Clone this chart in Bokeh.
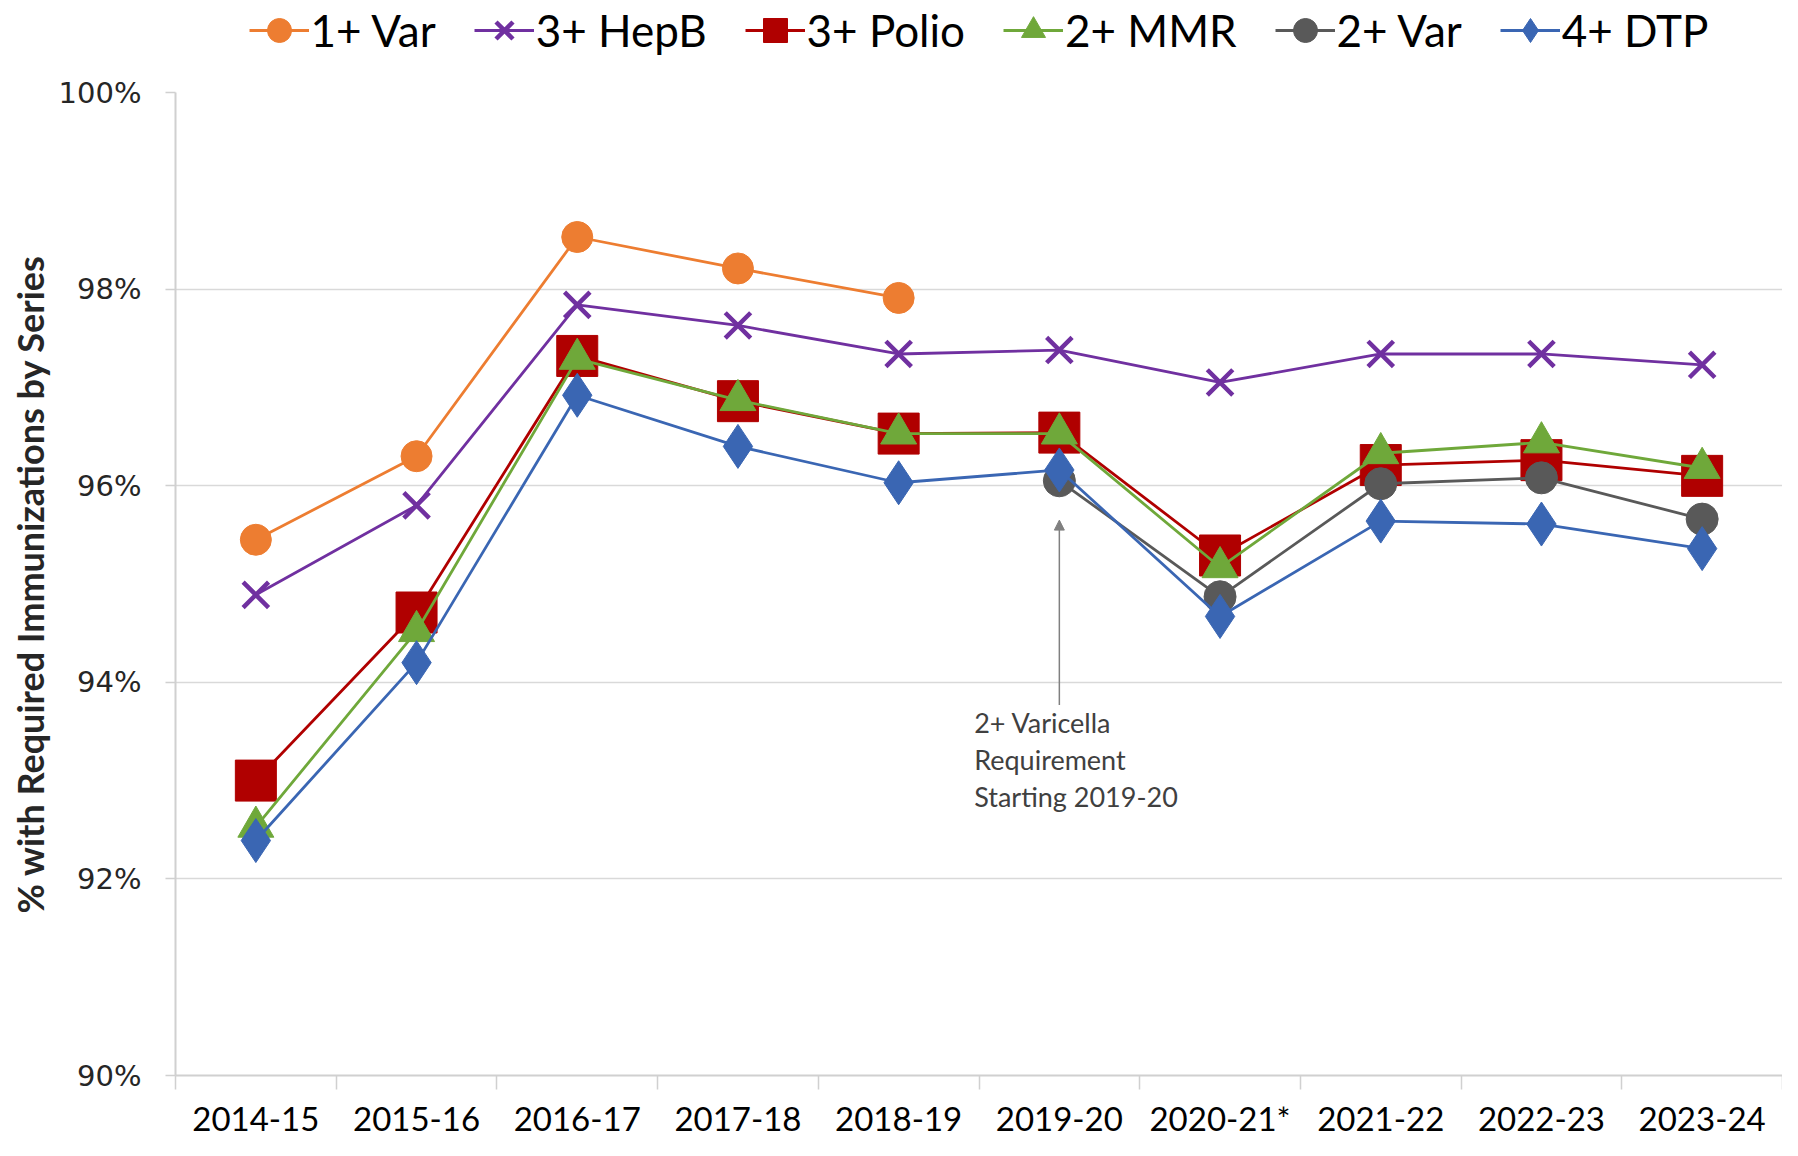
from bokeh.plotting import figure
from bokeh.layouts import column
from bokeh.models import (Legend, LegendItem, FixedTicker, Arrow, NormalHead, ColumnDataSource)
from bokeh.core.properties import value
from bokeh.embed import file_html
from bokeh.resources import INLINE

years = ["2014-15", "2015-16", "2016-17", "2017-18", "2018-19",
         "2019-20", "2020-21*", "2021-22", "2022-23", "2023-24"]
var1 = [95.45, 96.30, 98.53, 98.21, 97.91, None, None, None, None, None]
hepb3 = [94.89, 95.80, 97.84, 97.63, 97.34, 97.38, 97.05, 97.34, 97.34, 97.23]
polio3 = [93.00, 94.71, 97.32, 96.86, 96.53, 96.54, 95.29, 96.21, 96.26, 96.10]
mmr2 = [92.53, 94.52, 97.29, 96.87, 96.53, 96.53, 95.17, 96.33, 96.44, 96.18]
var2 = [None, None, None, None, None, 96.05, 94.87, 96.02, 96.08, 95.66]
dtp4 = [92.39, 94.20, 96.92, 96.40, 96.03, 96.16, 94.67, 95.64, 95.61, 95.36]
y_ticks = [90, 92, 94, 96, 98, 100]

series_names = ["1+ Var", "3+ HepB", "3+ Polio", "2+ MMR", "2+ Var", "4+ DTP"]
series_vals = [var1, hepb3, polio3, mmr2, var2, dtp4]
colors = ["#ED7D31", "#7030A0", "#B00000", "#6FA83A", "#595959", "#3A66B3"]
markers = ["circle", "x", "square", "triangle", "circle", "diamond"]
sizes = [31, 36, 41, 36, 32, 44]

annot_text = "2+ Varicella\nRequirement\nStarting 2019-20"

CAL = "Lato"
W = 1782
TOP_H = 72
H = 1140

# ---- legend strip (its renderers reuse the series data, which lies outside its ranges) ----
top = figure(width=W, height=TOP_H, output_backend="svg", toolbar_location=None,
             x_range=(0, 1), y_range=(0, 1), min_border_left=128, min_border_right=0,
             min_border_top=0, min_border_bottom=12)
top.axis.visible = False
top.grid.visible = False
top.outline_line_color = None

# ---- main chart ----
p = figure(width=W, height=H - TOP_H, output_backend="svg", toolbar_location=None,
           x_range=(-0.5, 9.5), y_range=(90, 100),
           min_border_left=175, min_border_right=0, min_border_top=20,
           min_border_bottom=0)
p.outline_line_color = None
p.xgrid.grid_line_color = None
p.ygrid.grid_line_color = "#d9d9d9"
p.ygrid.grid_line_width = 1.5
p.ygrid.ticker = FixedTicker(ticks=y_ticks)

xa = p.xaxis[0]
xa.ticker = FixedTicker(ticks=list(range(len(years))),
                        minor_ticks=[i - 0.5 for i in range(len(years) + 1)])
xa.major_label_overrides = {i: y for i, y in enumerate(years)}
xa.major_tick_line_color = None
xa.major_tick_out = 14
xa.major_tick_in = 0
xa.minor_tick_line_color = "#d0d0d0"
xa.minor_tick_line_width = 1.5
xa.minor_tick_out = 14
xa.minor_tick_in = 0
xa.axis_line_color = "#d0d0d0"
xa.axis_line_width = 2
xa.major_label_standoff = 8
xa.major_label_text_font = CAL
xa.major_label_text_font_size = "33px"
xa.major_label_text_color = "#000000"

ya = p.yaxis[0]
ya.ticker = FixedTicker(ticks=y_ticks)
ya.major_label_overrides = {t: f"{t}%" for t in y_ticks}
ya.major_tick_line_color = "#d0d0d0"
ya.major_tick_line_width = 1.5
ya.major_tick_out = 10
ya.major_tick_in = 0
ya.minor_tick_line_color = None
ya.axis_line_color = "#d0d0d0"
ya.axis_line_width = 2
ya.major_label_standoff = 24
ya.major_label_text_font = "DejaVu Sans"
ya.major_label_text_font_size = "29px"
ya.major_label_text_color = "#262626"
ya.axis_label = "% with Required Immunizations by Series"
ya.axis_label_text_font = CAL
ya.axis_label_text_font_style = "bold"
ya.axis_label_text_font_size = "36px"
ya.axis_label_text_color = "#262626"
ya.axis_label_standoff = 4

items = []
for name, vals, col, mk, sz in zip(series_names, series_vals, colors, markers, sizes):
    xs = [i for i, v in enumerate(vals) if v is not None]
    ys = [v for v in vals if v is not None]
    src = ColumnDataSource(dict(x=xs, y=ys))
    p.line("x", "y", source=src, line_color=col, line_width=2.8)
    lr = top.line("x", "y", source=src, line_color=col, line_width=2.8)
    if mk == "x":
        p.scatter("x", "y", source=src, marker=mk, size=sz, line_color=col, line_width=4.5)
        sr = top.scatter("x", "y", source=src, marker=mk, size=sz, line_color=col, line_width=4.5)
    else:
        p.scatter("x", "y", source=src, marker=mk, size=sz, fill_color=col, line_color=col)
        sr = top.scatter("x", "y", source=src, marker=mk, size=sz, fill_color=col, line_color=col)
    items.append(LegendItem(label=name, renderers=[lr, sr]))

legend = Legend(items=items, orientation="horizontal", location="center",
                label_text_font=CAL, label_text_font_size="44px",
                label_text_color="#000000", glyph_width=60, glyph_height=60,
                spacing=38, padding=0, margin=0, border_line_color=None,
                background_fill_alpha=0, label_standoff=2)
top.add_layout(legend, "center")

# annotation
p.add_layout(Arrow(end=NormalHead(size=10, fill_color="#808080", line_color="#808080"),
                   x_start=5, y_start=93.77, x_end=5, y_end=95.65,
                   line_color="#808080", line_width=1.5))
p.text(x=[4.47], y=[93.76], text=[annot_text], text_font=value(CAL),
       text_font_size="27px", text_color="#404040", text_baseline="top",
       text_line_height=1.12)

layout = column(top, p, spacing=0)
open("out.html", "w").write(file_html(layout, INLINE))
